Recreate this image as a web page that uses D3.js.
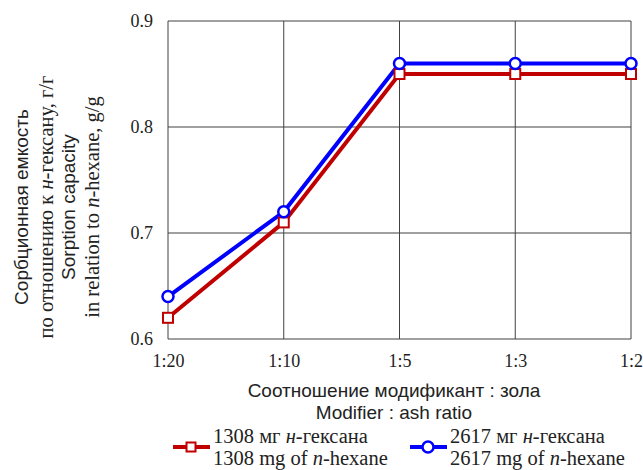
<!DOCTYPE html>
<html>
<head>
<meta charset="utf-8">
<script src="https://cdn.jsdelivr.net/npm/d3@7"></script>
<style>
  body { margin: 0; background: #fff; }
  .serif { font-family: "Liberation Serif", "Times New Roman", serif; }
  .sans { font-family: "Liberation Sans", Arial, sans-serif; }
</style>
</head>
<body>
<svg id="chart" width="643" height="470"></svg>
<script>
const ratios = ["1:20", "1:10", "1:5", "1:3", "1:2"];
const hex1308 = [0.62, 0.71, 0.85, 0.85, 0.85];
const hex2617 = [0.64, 0.72, 0.86, 0.86, 0.86];
const yTicks = [0.6, 0.7, 0.8, 0.9];

const svg = d3.select("#chart");
const margin = { top: 21, right: 12, bottom: 131, left: 168 };
const width = 643 - margin.left - margin.right;
const height = 470 - margin.top - margin.bottom;

const x = d3.scalePoint().domain(ratios).range([0, width]);
const y = d3.scaleLinear().domain([0.6, 0.9]).range([height, 0]);

const g = svg.append("g").attr("transform", `translate(${margin.left},${margin.top})`);

// grid
g.append("g").selectAll("line").data(yTicks).join("line")
  .attr("x1", 0).attr("x2", width)
  .attr("y1", d => y(d)).attr("y2", d => y(d))
  .attr("stroke", "#404040").attr("stroke-width", 1);
g.append("g").selectAll("line").data(ratios).join("line")
  .attr("x1", d => x(d)).attr("x2", d => x(d))
  .attr("y1", 0).attr("y2", height)
  .attr("stroke", "#404040").attr("stroke-width", 1);

// axes
const yAxis = g.append("g")
  .call(d3.axisLeft(y).tickValues(yTicks).tickFormat(d3.format(".1f")).tickSize(0).tickPadding(15));
yAxis.select(".domain").remove();
yAxis.selectAll("text").attr("class", "serif").style("font-size", "18px").attr("fill", "#222");

const xAxis = g.append("g").attr("transform", `translate(0,${height})`)
  .call(d3.axisBottom(x).tickSize(0).tickPadding(15));
xAxis.select(".domain").remove();
xAxis.selectAll("text").attr("class", "serif").style("font-size", "18px").attr("fill", "#222");

// lines
const line = d3.line().x((d, i) => x(ratios[i])).y(d => y(d));
g.append("path").datum(hex1308).attr("d", line)
  .attr("fill", "none").attr("stroke", "#C00000").attr("stroke-width", 4);
g.append("path").datum(hex2617).attr("d", line)
  .attr("fill", "none").attr("stroke", "#0000FF").attr("stroke-width", 4);

g.append("g").selectAll("rect").data(hex1308).join("rect")
  .attr("x", (d, i) => x(ratios[i]) - 5).attr("y", d => y(d) - 5)
  .attr("width", 10).attr("height", 10)
  .attr("fill", "#fff").attr("stroke", "#C00000").attr("stroke-width", 2);
g.append("g").selectAll("circle").data(hex2617).join("circle")
  .attr("cx", (d, i) => x(ratios[i])).attr("cy", d => y(d)).attr("r", 5.5)
  .attr("fill", "#fff").attr("stroke", "#0000FF").attr("stroke-width", 2.5);

// x title
svg.append("text").attr("class", "sans").attr("x", 394).attr("y", 397)
  .attr("text-anchor", "middle").style("font-size", "19px").attr("fill", "#222")
  .text("Соотношение модификант : зола");
svg.append("text").attr("class", "sans").attr("x", 394).attr("y", 419)
  .attr("text-anchor", "middle").style("font-size", "19px").attr("fill", "#222")
  .text("Modifier : ash ratio");

// y title
const yt = svg.append("text").attr("transform", "translate(0,207) rotate(-90)")
  .attr("text-anchor", "middle").attr("fill", "#222");
yt.append("tspan").attr("class", "sans").style("font-size", "19px").attr("x", 0).attr("y", 28).text("Сорбционная емкость");
const l2 = yt.append("tspan").attr("class", "serif").style("font-size", "20.5px").attr("x", 0).attr("y", 53);
l2.append("tspan").text("по отношению к ");
l2.append("tspan").style("font-style", "italic").text("н");
l2.append("tspan").text("-гексану, г/г");
yt.append("tspan").attr("class", "sans").style("font-size", "19px").attr("x", 0).attr("y", 75).text("Sorption capacity");
const l4 = yt.append("tspan").attr("class", "serif").style("font-size", "20.5px").attr("x", 0).attr("y", 99);
l4.append("tspan").text("in relation to ");
l4.append("tspan").style("font-style", "italic").text("n");
l4.append("tspan").text("-hexane, g/g");

// legend
const legend = [
  { x: 173, color: "#C00000", shape: "rect", num: "1308" },
  { x: 410, color: "#0000FF", shape: "circle", num: "2617" }
];
legend.forEach(l => {
  const lg = svg.append("g");
  lg.append("line").attr("x1", l.x).attr("x2", l.x + 37).attr("y1", 447).attr("y2", 447)
    .attr("stroke", l.color).attr("stroke-width", 4);
  if (l.shape === "rect") {
    lg.append("rect").attr("x", l.x + 13.5).attr("y", 442.5).attr("width", 9).attr("height", 9)
      .attr("fill", "#fff").attr("stroke", l.color).attr("stroke-width", 2);
  } else {
    lg.append("circle").attr("cx", l.x + 18).attr("cy", 447).attr("r", 5.5)
      .attr("fill", "#fff").attr("stroke", l.color).attr("stroke-width", 2.5);
  }
  const t1 = lg.append("text").attr("class", "serif").attr("x", l.x + 40).attr("y", 443)
    .style("font-size", "20.5px").attr("fill", "#222");
  t1.append("tspan").text(l.num + " мг ");
  t1.append("tspan").style("font-style", "italic").text("н");
  t1.append("tspan").text("-гексана");
  const t2 = lg.append("text").attr("class", "serif").attr("x", l.x + 40).attr("y", 465)
    .style("font-size", "20.5px").attr("fill", "#222");
  t2.append("tspan").text(l.num + " mg of ");
  t2.append("tspan").style("font-style", "italic").text("n");
  t2.append("tspan").text("-hexane");
});
</script>
</body>
</html>
